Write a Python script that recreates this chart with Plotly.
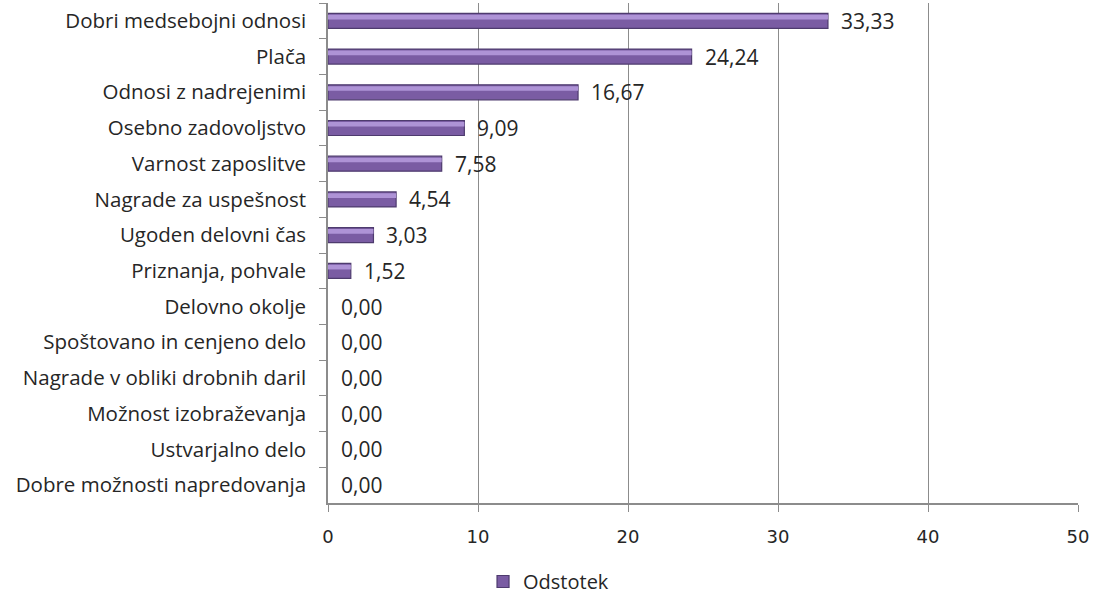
import plotly.graph_objects as go

categories = [
    "Dobri medsebojni odnosi",
    "Plača",
    "Odnosi z nadrejenimi",
    "Osebno zadovoljstvo",
    "Varnost zaposlitve",
    "Nagrade za uspešnost",
    "Ugoden delovni čas",
    "Priznanja, pohvale",
    "Delovno okolje",
    "Spoštovano in cenjeno delo",
    "Nagrade v obliki drobnih daril",
    "Možnost izobraževanja",
    "Ustvarjalno delo",
    "Dobre možnosti napredovanja",
]
values = [33.33, 24.24, 16.67, 9.09, 7.58, 4.54, 3.03, 1.52, 0, 0, 0, 0, 0, 0]
labels = [f"{v:.2f}".replace(".", ",") for v in values]
series_name = "Odstotek"

FONT = "'Open Sans', sans-serif"
TXT = "#262626"

fig = go.Figure()
fig.add_trace(go.Bar(
    y=categories, x=values, orientation="h", name=series_name,
    width=0.42,
    marker=dict(color="#7A5CA3",
                line=dict(color="#4E3B6E", width=[1.2 if v > 0 else 0 for v in values])),
    hoverinfo="x+y",
))
# bevel highlight on the bars (lighter upper band)
fig.add_trace(go.Bar(
    y=categories, x=values, orientation="h", name=series_name + " highlight",
    width=0.13, offset=-0.17, showlegend=False, hoverinfo="skip",
    marker=dict(color="#AE93D6", line=dict(width=0)),
))

for c, v, t in zip(categories, values, labels):
    fig.add_annotation(x=v, y=c, text=t, showarrow=False, xanchor="left",
                       xshift=11, yshift=0,
                       font=dict(family=FONT, size=21, color=TXT))

fig.update_layout(
    width=1096, height=601,
    margin=dict(l=328, r=18, t=3, b=98, autoexpand=False),
    paper_bgcolor="white", plot_bgcolor="white",
    barmode="overlay",
    showlegend=True,
    legend=dict(orientation="h", x=0.2067, xanchor="left",
                yref="container", y=0.0, yanchor="bottom",
                font=dict(family=FONT, size=20, color=TXT),
                itemwidth=30),
    font=dict(family=FONT, size=20, color=TXT),
)
fig.update_xaxes(
    range=[0, 50], dtick=10, showgrid=True, gridcolor="#8C8C8C", gridwidth=1,
    showline=True, linecolor="#8C8C8C", linewidth=1.5,
    ticks="outside", ticklen=7, tickcolor="#8C8C8C",
    tickfont=dict(family="DejaVu Sans, sans-serif", size=18, color=TXT),
    ticklabelstandoff=10, zeroline=False, fixedrange=True,
)
fig.update_yaxes(
    autorange="reversed", showline=True, linecolor="#8C8C8C", linewidth=1.5,
    ticks="outside", ticklen=7, tickcolor="#8C8C8C", tickson="boundaries",
    showgrid=False, ticklabelstandoff=16,
    tickfont=dict(family=FONT, size=20.5, color=TXT),
)
fig.write_html("out.html")
